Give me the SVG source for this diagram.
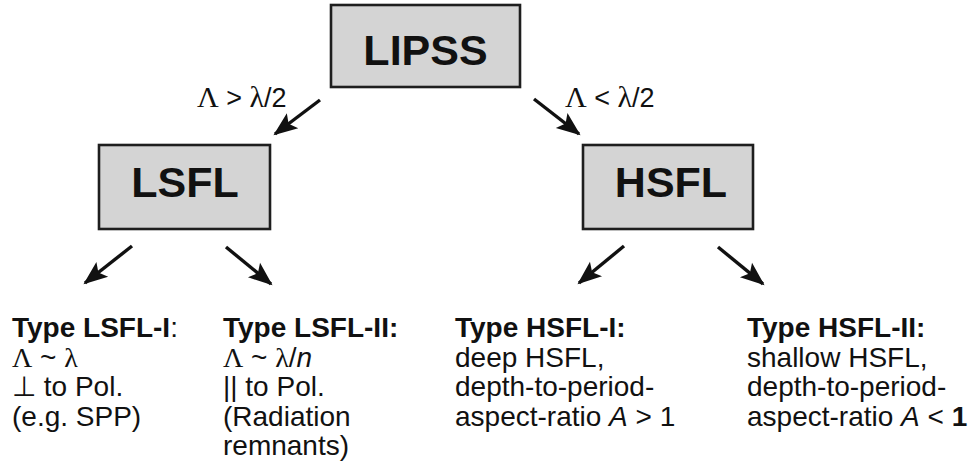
<svg xmlns="http://www.w3.org/2000/svg" width="975" height="476" viewBox="0 0 975 476">
  <style>
    .box { fill: #d4d4d4; stroke: #1e1e1e; stroke-width: 2.6; }
    .title { font-family: "Liberation Sans", Arial, sans-serif; font-weight: bold; font-size: 43px; fill: #111; text-anchor: middle; }
    .txt { font-family: "Liberation Sans", Arial, sans-serif; font-size: 28px; fill: #111; }
    .lbl { font-size: 27px; }
    .b { font-weight: bold; }
    .gr { font-family: "Liberation Serif", "Times New Roman", serif; }
    .lbl .gr { font-size: 30px; }
    .it { font-style: italic; }
    .conn { stroke: #111; stroke-width: 3.4; fill: none; marker-end: url(#head); }
  </style>
  <defs>
    <marker id="head" markerUnits="userSpaceOnUse" markerWidth="26" markerHeight="26" viewBox="0 0 26 26" refX="22" refY="13" orient="auto">
      <path d="M0,3.5 L24,13 L0,22.5 L5,13 Z" fill="#111"/>
    </marker>
  </defs>
  <rect width="975" height="476" fill="#ffffff"/>

  <g id="connectors">
    <line class="conn" x1="320" y1="100" x2="275" y2="134"/>
    <line class="conn" x1="534" y1="99" x2="579" y2="134"/>
    <line class="conn" x1="132" y1="246" x2="85" y2="283"/>
    <line class="conn" x1="226" y1="247" x2="271" y2="284"/>
    <line class="conn" x1="624" y1="246" x2="579" y2="283"/>
    <line class="conn" x1="718" y1="247" x2="763" y2="284"/>
  </g>

  <g id="label-gt">
    <text class="txt lbl" x="197" y="107"><tspan class="gr">Λ</tspan> &gt; <tspan class="gr">λ</tspan>/2</text>
  </g>
  <g id="label-lt">
    <text class="txt lbl" x="565" y="107"><tspan class="gr">Λ</tspan> &lt; <tspan class="gr">λ</tspan>/2</text>
  </g>

  <g id="node-lipss">
    <rect class="box" x="331" y="5" width="189" height="82"/>
    <text class="title" x="425.5" y="65">LIPSS</text>
  </g>
  <g id="node-lsfl">
    <rect class="box" x="99" y="145" width="171" height="84"/>
    <text class="title" x="185" y="197">LSFL</text>
  </g>
  <g id="node-hsfl">
    <rect class="box" x="583" y="145" width="170" height="84"/>
    <text class="title" x="671" y="197">HSFL</text>
  </g>

  <g id="node-lsfl-1">
    <text class="txt" x="12" y="337"><tspan class="b">Type LSFL-I</tspan>:</text>
    <text class="txt" x="12" y="366.5"><tspan class="gr">Λ</tspan> ~ <tspan class="gr">λ</tspan></text>
    <text class="txt" x="12" y="396">⊥ to Pol.</text>
    <text class="txt" x="12" y="425.5">(e.g. SPP)</text>
  </g>
  <g id="node-lsfl-2">
    <text class="txt b" x="223" y="337">Type LSFL-II:</text>
    <text class="txt" x="223" y="366.5"><tspan class="gr">Λ</tspan> ~ <tspan class="gr">λ</tspan>/<tspan class="it">n</tspan></text>
    <text class="txt" x="223" y="396">|| to Pol.</text>
    <text class="txt" x="223" y="425.5">(Radiation</text>
    <text class="txt" x="223" y="455">remnants)</text>
  </g>
  <g id="node-hsfl-1">
    <text class="txt b" x="455" y="337">Type HSFL-I:</text>
    <text class="txt" x="455" y="366.5">deep HSFL,</text>
    <text class="txt" x="455" y="396">depth-to-period-</text>
    <text class="txt" x="455" y="425.5">aspect-ratio <tspan class="it">A</tspan> &gt; 1</text>
  </g>
  <g id="node-hsfl-2">
    <text class="txt b" x="747" y="337">Type HSFL-II:</text>
    <text class="txt" x="747" y="366.5">shallow HSFL,</text>
    <text class="txt" x="747" y="396">depth-to-period-</text>
    <text class="txt" x="747" y="425.5">aspect-ratio <tspan class="it">A</tspan> &lt; <tspan class="b">1</tspan></text>
  </g>
</svg>
